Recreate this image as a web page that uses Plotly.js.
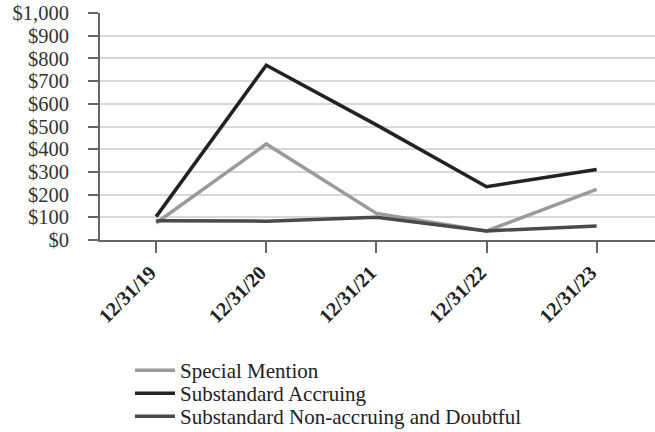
<!DOCTYPE html>
<html>
<head>
<meta charset="utf-8">
<script src="https://cdn.plot.ly/plotly-3.0.1.min.js"></script>
<style>html,body{margin:0;padding:0;background:#fff;}#chart{width:655px;height:432px;}</style>
</head>
<body>
<div id="chart"></div>
<script>
const categories = ["12/31/19", "12/31/20", "12/31/21", "12/31/22", "12/31/23"];
const specialMention = [75, 423, 117, 40, 223];
const substandardAccruing = [103, 770, 507, 235, 311];
const substandardNonAccruing = [85, 83, 100, 40, 62];
const seriesNames = ["Special Mention", "Substandard Accruing", "Substandard Non-accruing and Doubtful"];
const yTicks = [0, 100, 200, 300, 400, 500, 600, 700, 800, 900, 1000];
const yTickText = yTicks.map(v => "$" + v.toLocaleString("en-US"));

const colors = ["#9b9b9b", "#222222", "#4a4a4a"];
const series = [specialMention, substandardAccruing, substandardNonAccruing];
const legendIds = ["legend", "legend2", "legend3"];

const traces = series.map((vals, i) => ({
  type: "scatter",
  mode: "lines",
  x: categories,
  y: vals,
  name: seriesNames[i],
  legend: legendIds[i],
  line: {color: colors[i], width: 3.5},
  hoverinfo: "skip"
}));

// plot area: y from 13px (top) to 240px (bottom) => 227px tall
const plotTop = 13, plotH = 227, plotL = 100, plotW = 555;
const legendRowsPx = [370.5, 393.5, 416.5];
function legendCfg(py) {
  return {
    x: (130 - plotL) / plotW, xanchor: "left",
    y: (plotTop + plotH - py) / plotH, yanchor: "middle",
    orientation: "v",
    font: {family: "Liberation Serif, serif", size: 21, color: "#222222"},
    itemwidth: 40,
    bgcolor: "rgba(0,0,0,0)",
    borderwidth: 0
  };
}

const layout = {
  width: 655,
  height: 432,
  margin: {l: plotL, r: 0, t: plotTop, b: 432 - plotTop - plotH, autoexpand: false},
  paper_bgcolor: "#ffffff",
  plot_bgcolor: "#ffffff",
  font: {family: "Liberation Serif, Times New Roman, serif", color: "#222222", size: 20},
  showlegend: true,
  legend: legendCfg(legendRowsPx[0]),
  legend2: legendCfg(legendRowsPx[1]),
  legend3: legendCfg(legendRowsPx[2]),
  xaxis: {
    type: "category",
    range: [-0.51, 4.53],
    automargin: false,
    showgrid: false,
    zeroline: false,
    showline: true,
    linecolor: "#666666",
    linewidth: 2,
    ticks: "outside",
    ticklen: 11,
    tickwidth: 2,
    tickcolor: "#666666",
    tickangle: -45,
    ticklabelshift: -6,
    tickfont: {family: "Liberation Serif, serif", size: 20, color: "#222222", weight: "bold"},
    fixedrange: true
  },
  yaxis: {
    range: [0, 1000],
    automargin: false,
    tickmode: "array",
    tickvals: yTicks,
    ticktext: yTickText,
    showgrid: true,
    gridcolor: "#d9d9d9",
    gridwidth: 2,
    zeroline: false,
    showline: true,
    linecolor: "#666666",
    linewidth: 2,
    ticks: "outside",
    ticklen: 10,
    tickwidth: 2,
    tickcolor: "#666666",
    ticklabelstandoff: 15,
    tickfont: {family: "Liberation Serif, serif", size: 20.5, color: "#333333"},
    fixedrange: true
  }
};

Plotly.newPlot("chart", traces, layout, {displayModeBar: false, staticPlot: true});
</script>
</body>
</html>
